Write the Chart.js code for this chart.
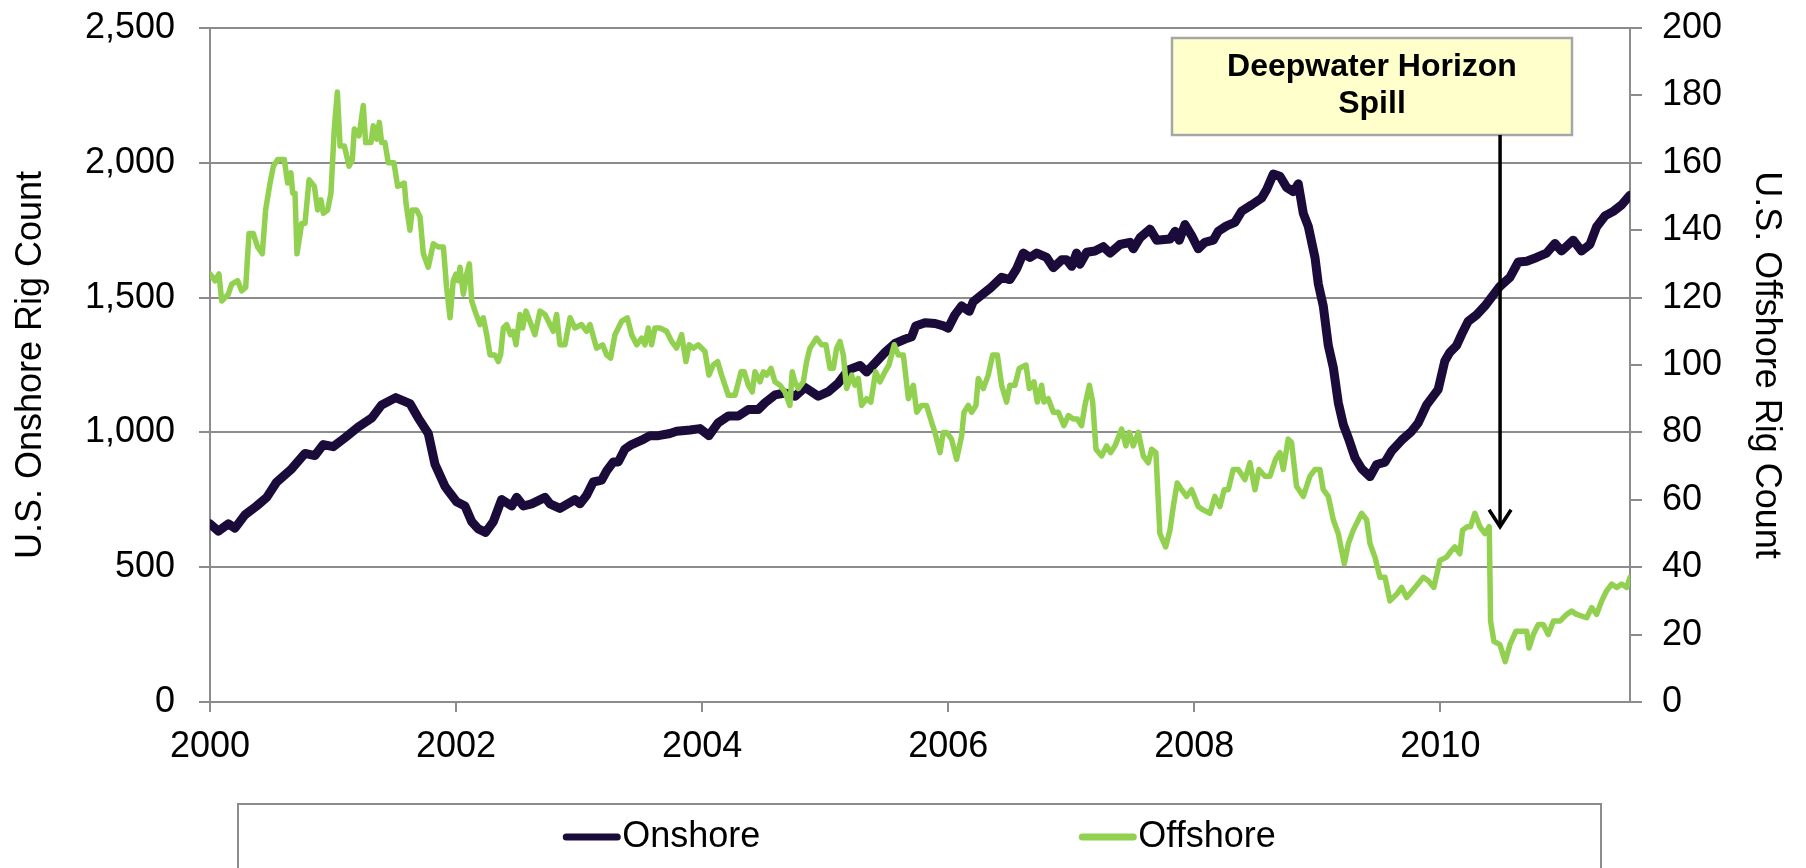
<!DOCTYPE html>
<html>
<head>
<meta charset="utf-8">
<title>U.S. Onshore and Offshore Rig Count</title>
<script src="https://cdn.jsdelivr.net/npm/chart.js@4.4.1/dist/chart.umd.min.js"></script>
<style>
  html, body { margin: 0; padding: 0; background: #ffffff; }
  canvas { display: block; }
</style>
</head>
<body>
<canvas id="rigChart" width="1806" height="868"></canvas>
<script>
// data (x in decimal years)

var onshoreYears = [
    2000.000, 2000.068, 2000.149, 2000.203, 2000.284, 2000.379, 2000.461, 2000.542, 2000.664, 2000.772,
    2000.853, 2000.921, 2001.002, 2001.097, 2001.205, 2001.314, 2001.395, 2001.509, 2001.625, 2001.693,
    2001.774, 2001.829, 2001.910, 2001.950, 2002.004, 2002.072, 2002.127, 2002.181, 2002.240, 2002.303,
    2002.370, 2002.452, 2002.492, 2002.547, 2002.614, 2002.723, 2002.763, 2002.844, 2002.966, 2003.007,
    2003.061, 2003.115, 2003.183, 2003.224, 2003.277, 2003.318, 2003.372, 2003.427, 2003.508, 2003.576,
    2003.643, 2003.738, 2003.792, 2003.901, 2003.982, 2004.055, 2004.131, 2004.213, 2004.294, 2004.375,
    2004.456, 2004.511, 2004.592, 2004.673, 2004.754, 2004.836, 2004.944, 2005.026, 2005.107, 2005.188,
    2005.283, 2005.337, 2005.405, 2005.486, 2005.568, 2005.649, 2005.703, 2005.736, 2005.811, 2005.893,
    2005.961, 2006.000, 2006.054, 2006.109, 2006.171, 2006.203, 2006.271, 2006.339, 2006.434, 2006.501,
    2006.556, 2006.610, 2006.664, 2006.719, 2006.800, 2006.854, 2006.922, 2006.962, 2007.003, 2007.043,
    2007.071, 2007.125, 2007.192, 2007.260, 2007.315, 2007.396, 2007.477, 2007.505, 2007.559, 2007.640,
    2007.694, 2007.803, 2007.843, 2007.878, 2007.924, 2007.978, 2008.032, 2008.086, 2008.154, 2008.195,
    2008.262, 2008.330, 2008.384, 2008.466, 2008.547, 2008.588, 2008.642, 2008.696, 2008.750, 2008.805,
    2008.845, 2008.886, 2008.927, 2008.981, 2009.008, 2009.048, 2009.089, 2009.130, 2009.170, 2009.211,
    2009.252, 2009.306, 2009.360, 2009.428, 2009.482, 2009.550, 2009.604, 2009.685, 2009.766, 2009.821,
    2009.888, 2009.982, 2010.036, 2010.077, 2010.131, 2010.172, 2010.226, 2010.294, 2010.362, 2010.416,
    2010.484, 2010.565, 2010.633, 2010.701, 2010.782, 2010.863, 2010.931, 2010.985, 2011.080, 2011.147,
    2011.215, 2011.270, 2011.337, 2011.405, 2011.473, 2011.541
];
var onshoreRigs = [
    661, 634, 661, 645, 694, 727, 759, 816, 865, 922,
    914, 955, 947, 980, 1020, 1053, 1102, 1129, 1107, 1053,
    996, 881, 800, 775, 743, 727, 669, 642, 629, 669,
    751, 727, 759, 727, 735, 759, 735, 718, 751, 735,
    767, 816, 823, 857, 890, 890, 938, 955, 971, 988,
    988, 996, 1004, 1009, 1014, 988, 1036, 1061, 1061, 1085,
    1085, 1110, 1139, 1146, 1134, 1167, 1134, 1151, 1183, 1232,
    1248, 1224, 1257, 1297, 1330, 1346, 1355, 1395, 1407, 1404,
    1395, 1387, 1436, 1469, 1449, 1485, 1510, 1534, 1575, 1567,
    1607, 1665, 1649, 1665, 1649, 1611, 1640, 1640, 1616, 1665,
    1624, 1668, 1673, 1689, 1665, 1697, 1705, 1681, 1722, 1754,
    1713, 1717, 1746, 1713, 1771, 1730, 1681, 1705, 1713, 1746,
    1766, 1779, 1820, 1844, 1869, 1901, 1958, 1950, 1909, 1893,
    1922, 1812, 1763, 1648, 1550, 1469, 1322, 1240, 1110, 1029,
    979, 906, 865, 836, 881, 890, 931, 971, 1004, 1036,
    1102, 1159, 1265, 1297, 1322, 1363, 1412, 1436, 1469, 1501,
    1542, 1575, 1632, 1635, 1649, 1665, 1701, 1673, 1713, 1673,
    1697, 1763, 1803, 1820, 1844, 1880
];

var offshoreYears = [
    2000.000, 2000.041, 2000.073, 2000.095, 2000.149, 2000.176, 2000.225, 2000.257, 2000.290, 2000.317,
    2000.352, 2000.387, 2000.425, 2000.452, 2000.488, 2000.515, 2000.550, 2000.604, 2000.631, 2000.658,
    2000.672, 2000.691, 2000.707, 2000.745, 2000.772, 2000.805, 2000.848, 2000.875, 2000.902, 2000.921,
    2000.956, 2000.983, 2001.010, 2001.035, 2001.057, 2001.092, 2001.130, 2001.157, 2001.173, 2001.211,
    2001.246, 2001.265, 2001.308, 2001.327, 2001.354, 2001.376, 2001.395, 2001.422, 2001.449, 2001.495,
    2001.525, 2001.579, 2001.593, 2001.625, 2001.644, 2001.679, 2001.707, 2001.734, 2001.774, 2001.815,
    2001.856, 2001.897, 2001.923, 2001.951, 2001.977, 2001.999, 2002.018, 2002.032, 2002.059, 2002.086,
    2002.108, 2002.127, 2002.154, 2002.194, 2002.221, 2002.249, 2002.276, 2002.316, 2002.343, 2002.362,
    2002.384, 2002.411, 2002.443, 2002.465, 2002.487, 2002.519, 2002.541, 2002.568, 2002.600, 2002.641,
    2002.682, 2002.723, 2002.763, 2002.790, 2002.817, 2002.844, 2002.885, 2002.926, 2002.966, 2003.020,
    2003.061, 2003.088, 2003.142, 2003.191, 2003.224, 2003.256, 2003.291, 2003.346, 2003.392, 2003.427,
    2003.468, 2003.508, 2003.535, 2003.562, 2003.589, 2003.616, 2003.657, 2003.711, 2003.752, 2003.792,
    2003.833, 2003.868, 2003.895, 2003.928, 2003.968, 2004.023, 2004.055, 2004.090, 2004.126, 2004.158,
    2004.213, 2004.267, 2004.316, 2004.342, 2004.375, 2004.407, 2004.429, 2004.470, 2004.497, 2004.524,
    2004.559, 2004.592, 2004.632, 2004.673, 2004.713, 2004.732, 2004.754, 2004.781, 2004.822, 2004.849,
    2004.876, 2004.930, 2004.971, 2005.006, 2005.039, 2005.066, 2005.093, 2005.120, 2005.147, 2005.174,
    2005.215, 2005.242, 2005.269, 2005.296, 2005.337, 2005.371, 2005.410, 2005.445, 2005.486, 2005.518,
    2005.561, 2005.594, 2005.635, 2005.676, 2005.716, 2005.744, 2005.783, 2005.824, 2005.865, 2005.892,
    2005.933, 2005.960, 2005.987, 2006.027, 2006.068, 2006.109, 2006.128, 2006.163, 2006.190, 2006.225,
    2006.244, 2006.285, 2006.325, 2006.361, 2006.399, 2006.434, 2006.474, 2006.501, 2006.542, 2006.577,
    2006.632, 2006.659, 2006.697, 2006.724, 2006.759, 2006.778, 2006.813, 2006.854, 2006.895, 2006.940,
    2006.976, 2007.016, 2007.049, 2007.084, 2007.111, 2007.147, 2007.174, 2007.201, 2007.247, 2007.287,
    2007.320, 2007.355, 2007.409, 2007.444, 2007.472, 2007.504, 2007.545, 2007.585, 2007.626, 2007.653,
    2007.688, 2007.720, 2007.767, 2007.802, 2007.829, 2007.861, 2007.897, 2007.937, 2007.978, 2008.032,
    2008.072, 2008.127, 2008.167, 2008.208, 2008.243, 2008.276, 2008.316, 2008.357, 2008.411, 2008.452,
    2008.493, 2008.525, 2008.574, 2008.615, 2008.660, 2008.696, 2008.723, 2008.763, 2008.790, 2008.831,
    2008.886, 2008.940, 2008.981, 2009.021, 2009.048, 2009.089, 2009.130, 2009.170, 2009.219, 2009.252,
    2009.292, 2009.333, 2009.360, 2009.401, 2009.428, 2009.468, 2009.509, 2009.550, 2009.590, 2009.645,
    2009.685, 2009.726, 2009.794, 2009.861, 2009.902, 2009.947, 2009.996, 2010.050, 2010.091, 2010.118,
    2010.158, 2010.180, 2010.218, 2010.245, 2010.280, 2010.321, 2010.362, 2010.397, 2010.408, 2010.435,
    2010.484, 2010.527, 2010.565, 2010.614, 2010.660, 2010.701, 2010.720, 2010.755, 2010.796, 2010.836,
    2010.877, 2010.918, 2010.972, 2011.026, 2011.067, 2011.107, 2011.189, 2011.229, 2011.270, 2011.311,
    2011.351, 2011.392, 2011.433, 2011.473, 2011.514, 2011.541
];
var offshoreRigs = [
    127, 125, 127, 119, 121, 124, 125, 122, 123, 139,
    139, 135, 133, 146, 154, 159, 161, 161, 154, 157,
    151, 151, 133, 142, 142, 155, 153, 146, 149, 145,
    146, 151, 170, 181, 165, 165, 159, 161, 170, 168,
    177, 166, 166, 171, 167, 172, 166, 166, 160, 160,
    153, 154, 148, 140, 146, 146, 144, 133, 129, 136,
    135, 135, 123, 114, 125, 127, 125, 129, 121, 127,
    130, 119, 116, 112, 114, 109, 103, 103, 101, 103,
    111, 112, 109, 110, 106, 115, 111, 116, 113, 109,
    116, 115, 112, 110, 115, 106, 106, 114, 111, 112,
    110, 112, 105, 106, 103, 102, 109, 113, 114, 109,
    106, 108, 106, 111, 106, 111, 111, 110, 107, 105,
    109, 101, 106, 105, 106, 104, 97, 100, 101, 97,
    91, 91, 98, 98, 94, 92, 98, 95, 98, 97,
    99, 95, 94, 92, 88, 98, 95, 93, 95, 101,
    105, 108, 106, 106, 99, 99, 105, 107, 103, 93,
    97, 94, 96, 88, 90, 89, 98, 95, 98, 100,
    106, 103, 103, 90, 94, 86, 88, 88, 83, 80,
    74, 80, 80, 78, 72, 79, 86, 88, 86, 88,
    96, 93, 97, 103, 103, 94, 89, 94, 94, 99,
    100, 93, 95, 89, 94, 89, 90, 86, 86, 82,
    85, 84, 84, 82, 88, 94, 89, 75, 73, 76,
    74, 76, 81, 76, 80, 76, 80, 73, 71, 75,
    74, 50, 46, 51, 58, 65, 63, 61, 63, 58,
    57, 56, 61, 58, 63, 63, 69, 69, 66, 71,
    63, 69, 67, 67, 72, 74, 69, 78, 77, 64,
    61, 67, 69, 69, 63, 61, 54, 50, 41, 47,
    51, 54, 56, 54, 47, 43, 37, 37, 30, 32,
    34, 31, 34, 37, 36, 34, 42, 43, 45, 46,
    44, 51, 52, 52, 56, 52, 50, 52, 24, 18,
    17, 12, 17, 21, 21, 21, 16, 20, 23, 23,
    20, 24, 24, 26, 27, 26, 25, 28, 26, 30,
    33, 35, 34, 35, 34, 37
];

// axes

var xTicks = [2000, 2002, 2004, 2006, 2008, 2010];
var xMin = 2000;
var xMax = 2011.541;
var onshoreMax = 2500;
var onshoreStep = 500;
var offshoreMax = 200;
var offshoreStep = 20;

// annotation

var spillYear = 2010.485;
var spillArrowTip = 52;   // on the offshore scale
var spillLabel = ["Deepwater Horizon", "Spill"];

// style

var fontFamily = "'Liberation Sans', Arial, Helvetica, sans-serif";
var gridColor = '#8c8c8c';
var onshoreColor = '#1a0b3b';
var offshoreColor = '#92d050';

Chart.defaults.font.family = fontFamily;
Chart.defaults.font.size = 36;
Chart.defaults.color = '#000000';

function toPoints(years, values)
{
    var pts = [];
    for (var i = 0; i < years.length; i++) {
        pts.push({ x: years[i], y: values[i] });
    }
    return pts;
}

// no extra label padding, the plot box is fixed
function fixVertical(width)
{
    return function(scale) {
        scale.width = width;
        scale.paddingTop = 0;
        scale.paddingBottom = 0;
    };
}

// legend drawn like the boxed Excel one at the bottom
function drawLegend(chart)
{
    var ctx = chart.ctx;
    var items = [
        { label: 'Onshore', color: onshoreColor },
        { label: 'Offshore', color: offshoreColor }
    ];
    var symbolW = 57;
    var symbolGap = 2;
    var itemGap = 319;
    var boxLeft = 238, boxRight = 1601, boxTop = 804;
    var y = 837;

    ctx.save();
    ctx.strokeStyle = gridColor;
    ctx.lineWidth = 2;
    ctx.strokeRect(boxLeft, boxTop, boxRight - boxLeft, 120);

    ctx.font = '36px ' + fontFamily;
    ctx.textBaseline = 'middle';
    ctx.textAlign = 'left';

    var total = 0;
    items.forEach(function(it, i) {
        it.w = ctx.measureText(it.label).width;
        total += symbolW + symbolGap + it.w + (i > 0 ? itemGap : 0);
    });

    var x = (boxLeft + boxRight) / 2 - total / 2;
    items.forEach(function(it) {
        ctx.strokeStyle = it.color;
        ctx.lineWidth = 7;
        ctx.lineCap = 'round';
        ctx.beginPath();
        ctx.moveTo(x + 3, y);
        ctx.lineTo(x + symbolW - 3, y);
        ctx.stroke();
        ctx.fillStyle = '#000000';
        ctx.fillText(it.label, x + symbolW + symbolGap, y);
        x += symbolW + symbolGap + it.w + itemGap;
    });
    ctx.restore();
}

// callout box + arrow pointing at the spill date
function drawSpillNote(chart)
{
    var ctx = chart.ctx;
    var boxX = 1172, boxY = 38, boxW = 400, boxH = 97;
    var ax = chart.scales.x.getPixelForValue(spillYear);
    var tipY = chart.scales.y1.getPixelForValue(spillArrowTip);

    ctx.save();
    ctx.fillStyle = '#ffffcc';
    ctx.fillRect(boxX, boxY, boxW, boxH);
    ctx.strokeStyle = '#a6a6a6';
    ctx.lineWidth = 2.5;
    ctx.strokeRect(boxX, boxY, boxW, boxH);

    ctx.fillStyle = '#000000';
    ctx.font = 'bold 32px ' + fontFamily;
    ctx.textAlign = 'center';
    ctx.textBaseline = 'middle';
    ctx.fillText(spillLabel[0], boxX + boxW / 2, boxY + 29);
    ctx.fillText(spillLabel[1], boxX + boxW / 2, boxY + 66);

    ctx.strokeStyle = '#000000';
    ctx.lineWidth = 3.5;
    ctx.beginPath();
    ctx.moveTo(ax, boxY + boxH);
    ctx.lineTo(ax, tipY);
    ctx.stroke();
    ctx.beginPath();
    ctx.moveTo(ax - 11, tipY - 17);
    ctx.lineTo(ax, tipY);
    ctx.lineTo(ax + 11, tipY - 17);
    ctx.stroke();
    ctx.restore();
}

var extrasPlugin = {
    id: 'extras',
    afterDraw: function(chart) {
        drawLegend(chart);
        drawSpillNote(chart);
    }
};

var myChart = new Chart(document.getElementById('rigChart').getContext('2d'), {
    type: 'line',
    data: {
        datasets: [{
            label: 'Onshore',
            data: toPoints(onshoreYears, onshoreRigs),
            yAxisID: 'y',
            borderColor: onshoreColor,
            backgroundColor: onshoreColor,
            borderWidth: 9,
            borderJoinStyle: 'round',
            borderCapStyle: 'round',
            pointRadius: 0,
            tension: 0,
            order: 2
        }, {
            label: 'Offshore',
            data: toPoints(offshoreYears, offshoreRigs),
            yAxisID: 'y1',
            borderColor: offshoreColor,
            backgroundColor: offshoreColor,
            borderWidth: 5.5,
            borderJoinStyle: 'round',
            borderCapStyle: 'round',
            pointRadius: 0,
            tension: 0,
            order: 1
        }]
    },
    options: {
        responsive: false,
        animation: false,
        devicePixelRatio: 1,
        layout: { padding: { top: 28, left: 0, right: 0, bottom: 0 } },
        plugins: {
            legend: { display: false },
            tooltip: { enabled: false }
        },
        scales: {
            x: {
                type: 'linear',
                position: 'bottom',
                min: xMin,
                max: xMax,
                afterBuildTicks: function(scale) {
                    scale.ticks = xTicks.map(function(v) { return { value: v }; });
                },
                afterFit: function(scale) {
                    scale.height = 166;
                    scale.paddingLeft = 0;
                    scale.paddingRight = 0;
                },
                ticks: {
                    padding: 13,
                    maxRotation: 0,
                    callback: function(v) { return String(v); }
                },
                grid: {
                    drawOnChartArea: false,
                    drawTicks: true,
                    tickLength: 10,
                    color: gridColor,
                    lineWidth: 2
                },
                border: { display: true, color: gridColor, width: 2 }
            },
            y: {
                position: 'left',
                min: 0,
                max: onshoreMax,
                afterFit: fixVertical(210),
                ticks: {
                    stepSize: onshoreStep,
                    padding: 24,
                    callback: function(v) { return v.toLocaleString('en-US'); }
                },
                grid: {
                    color: gridColor,
                    lineWidth: 2,
                    tickLength: 11
                },
                border: { display: true, color: gridColor, width: 2 },
                title: {
                    display: true,
                    text: 'U.S. Onshore Rig Count',
                    font: { size: 36 },
                    padding: { top: 9, bottom: 0 }
                }
            },
            y1: {
                position: 'right',
                min: 0,
                max: offshoreMax,
                afterFit: fixVertical(176),
                ticks: {
                    stepSize: offshoreStep,
                    padding: 20
                },
                grid: {
                    drawOnChartArea: false,
                    color: gridColor,
                    lineWidth: 2,
                    tickLength: 12
                },
                border: { display: true, color: gridColor, width: 2 },
                title: {
                    display: true,
                    text: 'U.S. Offshore Rig Count',
                    font: { size: 36 },
                    padding: { top: 18, bottom: 0 }
                }
            }
        }
    },
    plugins: [extrasPlugin]
});
</script>
</body>
</html>
